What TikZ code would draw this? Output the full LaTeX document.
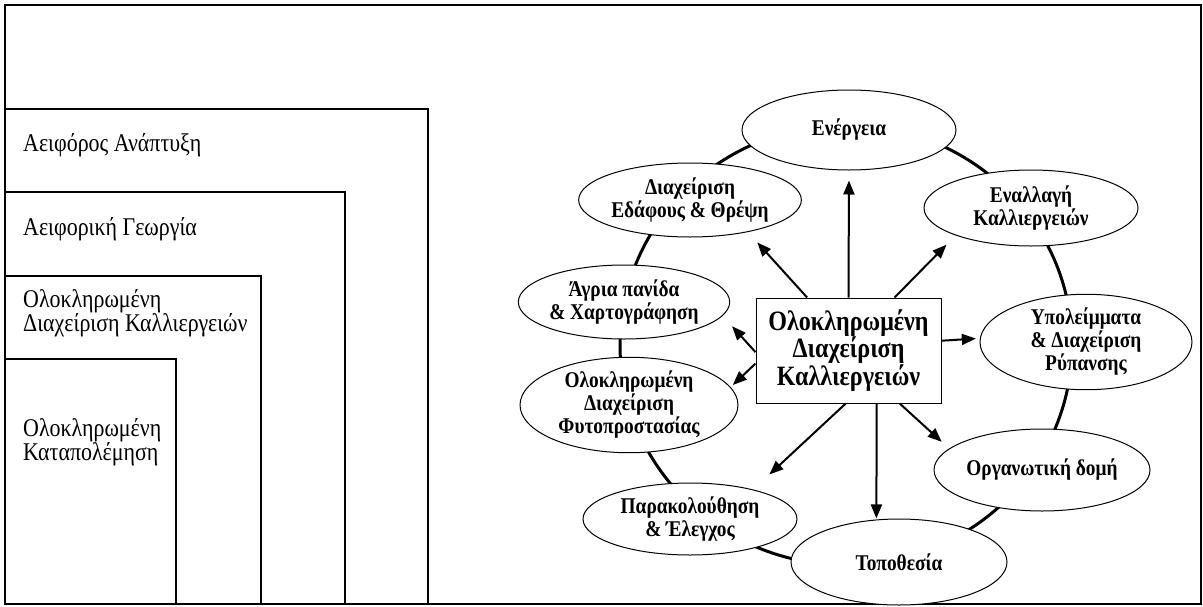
\documentclass[tikz,border=0pt]{standalone}
\usepackage{fontspec}
\setmainfont[FakeStretch=0.86]{Liberation Serif}
\usetikzlibrary{shapes.geometric,arrows.meta}

\tikzset{
  topic/.style={draw,ellipse,fill=white,line width=1pt,inner sep=0pt,align=center,
    font=\fontsize{22.5}{23}\selectfont\bfseries,minimum width=214pt,minimum height=76pt},
  hub/.style={draw,rectangle,fill=white,line width=1pt,align=center,
    font=\fontsize{28}{27.5}\selectfont\bfseries,minimum width=185pt,minimum height=105pt},
  level/.style={anchor=west,align=left,inner sep=0pt,font=\fontsize{25.5}{23.5}\selectfont},
  arr/.style={-{Triangle[length=14pt,width=11pt]},line width=2pt},
}

\begin{document}
\begin{tikzpicture}[x=1pt,y=-1pt]
\useasboundingbox (0,0) rectangle (1203,606);

% FRAME
\draw[line width=2.5pt] (5,5) rectangle (1201,604);

% LEVELS
\draw[line width=1.8pt] (5,109) rectangle (428,604);
\draw[line width=1.8pt] (5,192) rectangle (345,604);
\draw[line width=1.8pt] (5,276) rectangle (261,604);
\draw[line width=1.8pt] (5,359) rectangle (176,604);
\node[level] (sd) at (23,145) {Αειφόρος Ανάπτυξη};
\node[level] (sa) at (23,229) {Αειφορική Γεωργία};
\node[level] (icm) at (23,313) {Ολοκληρωμένη\\Διαχείριση Καλλιεργειών};
\node[level] (ipm) at (23,442) {Ολοκληρωμένη\\Καταπολέμηση};

% RING
\draw[line width=3pt] (846,345) ellipse [x radius=226, y radius=220];

% TOPICS
\node[topic,minimum height=80pt] (ener) at (849,130) {Ενέργεια};
\node[topic,minimum height=74pt] (ede) at (690,200) {Διαχείριση\\Εδάφους \& Θρέψη};
\node[topic] (ena) at (1031,208) {Εναλλαγή\\Καλλιεργειών};
\node[topic,minimum width=204pt,minimum height=74pt] (agr) at (624,302) {Άγρια πανίδα\\\& Χαρτογράφηση};
\node[topic,minimum width=212pt,minimum height=88pt] (ypo) at (1086,342) {Υπολείμματα\\\& Διαχείριση\\Ρύπανσης};
\node[topic,minimum width=218pt,minimum height=77pt] (fyt) at (629,405) {Ολοκληρωμένη\\Διαχείριση\\Φυτοπροστασίας};
\node[topic,minimum width=216pt,minimum height=82pt] (org) at (1042,470) {Οργανωτική δομή};
\node[topic,minimum height=72pt] (par) at (690,519) {Παρακολούθηση\\\& Έλεγχος};
\node[topic,minimum width=216pt,minimum height=86pt] (top) at (899,562) {Τοποθεσία};

% HUB
\node[hub] (hub) at (848.5,350.5) {Ολοκληρωμένη\\Διαχείριση\\Καλλιεργειών};

% ARROWS
\draw[arr,shorten >=10pt] (hub.north) -- (ener.south);
\draw[arr,shorten >=14pt] (hub.128.6) -- (ede.-29);
\draw[arr,shorten >=13pt] (hub.49.5) -- (ena.-160);
\draw[arr,shorten >=4pt] (hub.6.4) -- (ypo.178);
\draw[arr,shorten >=10pt] (hub.-46) -- (org.167);
\draw[arr,shorten >=1pt] (hub.-62.8) -- (top.118.7);
\draw[arr,shorten >=22pt] (hub.-93.7) -- (par.25.2);
\draw[arr,shorten >=3pt] (hub.-172.9) -- (fyt.10.4);
\draw[arr,shorten >=14pt] (hub.181.5) -- (agr.-8.9);

\end{tikzpicture}
\end{document}
